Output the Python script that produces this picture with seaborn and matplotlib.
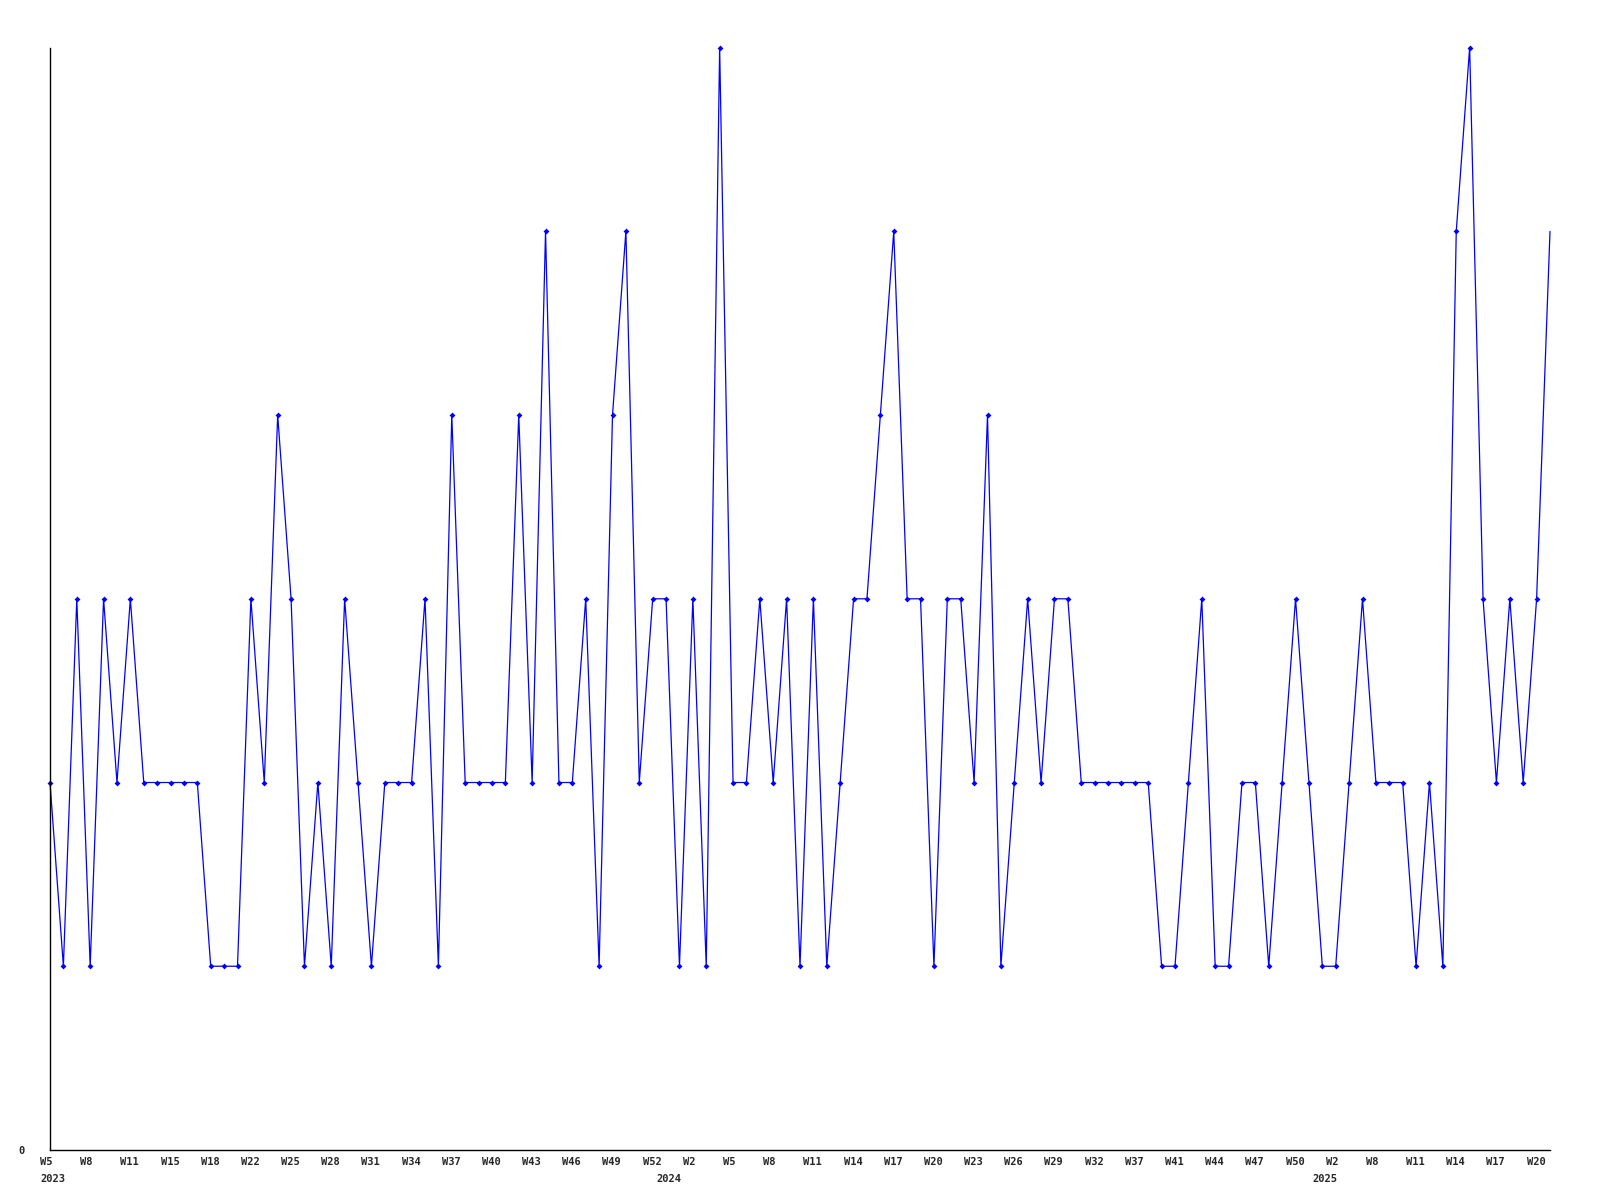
import matplotlib
matplotlib.use("Agg")
import matplotlib.pyplot as plt
import matplotlib.transforms as mtrans
import pandas as pd
import seaborn as sns

# weekly counts, W5 2023 .. W20 2025
counts = [2, 1, 3, 1, 3, 2, 3, 2, 2, 2,
          2, 2, 1, 1, 1, 3, 2, 4, 3, 1,
          2, 1, 3, 2, 1, 2, 2, 2, 3, 1,
          4, 2, 2, 2, 2, 4, 2, 5, 2, 2,
          3, 1, 4, 5, 2, 3, 3, 1, 3, 1,
          6, 2, 2, 3, 2, 3, 1, 3, 1, 2,
          3, 3, 4, 5, 3, 3, 1, 3, 3, 2,
          4, 1, 2, 3, 2, 3, 3, 2, 2, 2,
          2, 2, 2, 1, 1, 2, 3, 1, 1, 2,
          2, 1, 2, 3, 2, 1, 1, 2, 3, 2,
          2, 2, 1, 2, 1, 5, 6, 3, 2, 3,
          2, 3, 5]

week_labels = ['W5', 'W8', 'W11', 'W15', 'W18', 'W22', 'W25', 'W28', 'W31', 'W34',
               'W37', 'W40', 'W43', 'W46', 'W49', 'W52', 'W2', 'W5', 'W8', 'W11',
               'W14', 'W17', 'W20', 'W23', 'W26', 'W29', 'W32', 'W37', 'W41', 'W44',
               'W47', 'W50', 'W2', 'W8', 'W11', 'W14', 'W17', 'W20']
years = ['2023', '2024', '2025']
year_pos = [0, 46, 95]

df = pd.DataFrame({'idx': range(len(counts)), 'count': counts})

sns.set_style("white")
plt.rcParams['font.family'] = ['DejaVu Sans Mono']

fig = plt.figure(figsize=(16, 12), dpi=100)
ax = fig.add_axes([0.03125, 0.0417, 0.9375, 0.9186])

sns.lineplot(data=df, x='idx', y='count', ax=ax, color='#0000ff', linewidth=0.9,
             marker='D', markersize=3, markeredgewidth=0, markevery=list(range(len(counts) - 1)))
for ln in ax.get_lines():
    ln.set_clip_on(False)

ax.set_xlim(0, len(counts) - 1)
ax.set_ylim(0, 6)
ax.set_xlabel('')
ax.set_ylabel('')

for s in ['top', 'right']:
    ax.spines[s].set_visible(False)
for s in ['left', 'bottom']:
    ax.spines[s].set_color('black')
    ax.spines[s].set_linewidth(1)

ax.set_yticks([0])
ax.set_yticklabels(['0'], fontsize=7.5, fontweight='bold')
ax.tick_params(axis='y', length=0, pad=18)

ax.xaxis.remove_overlapping_locs = False
ax.set_xticks(list(range(0, len(counts) - 1, 3)))
ax.set_xticklabels(week_labels, fontsize=7.5, fontweight='bold')
ax.set_xticks(year_pos, minor=True)
ax.set_xticklabels(years, minor=True, fontsize=7.5, fontweight='bold')
ax.tick_params(axis='x', which='major', length=0, pad=5)
ax.tick_params(axis='x', which='minor', length=0, pad=17)

shift = mtrans.ScaledTranslation(-10 / 100, 0, fig.dpi_scale_trans)
for lab in ax.get_xticklabels() + ax.get_xticklabels(minor=True):
    lab.set_ha('left')
    lab.set_transform(lab.get_transform() + shift)

ax.grid(False)
fig.savefig('out.png', dpi=100)
